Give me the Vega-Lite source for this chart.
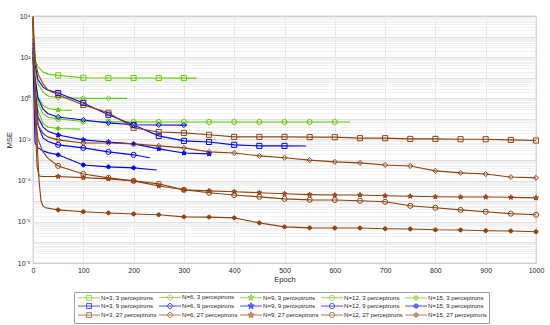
{
  "$schema": "https://vega.github.io/schema/vega-lite/v6.json",
  "autosize": {"type": "none"},
  "padding": {"left": 33, "top": 16, "right": 14, "bottom": 62},
  "width": 503,
  "height": 247,
  "config": {
    "font": "Liberation Sans",
    "view": {"stroke": "#777", "strokeWidth": 0.8},
    "axis": {"labelFontSize": 7, "titleFontSize": 7.5, "titleFontWeight": "normal", "labelColor": "#262626", "titleColor": "#262626", "gridColor": "#e0e0e0", "gridWidth": 0.8, "domain": false, "ticks": false}
  },
  "data": {"values": [
    {"series":"N=3, 3 perceptrons","epoch":0,"mse":200},{"series":"N=3, 3 perceptrons","epoch":5,"mse":60},{"series":"N=3, 3 perceptrons","epoch":10,"mse":35},{"series":"N=3, 3 perceptrons","epoch":20,"mse":19},{"series":"N=3, 3 perceptrons","epoch":30,"mse":15},{"series":"N=3, 3 perceptrons","epoch":50,"mse":13},{"series":"N=3, 3 perceptrons","epoch":100,"mse":10},{"series":"N=3, 3 perceptrons","epoch":150,"mse":9.8},{"series":"N=3, 3 perceptrons","epoch":200,"mse":9.7},{"series":"N=3, 3 perceptrons","epoch":250,"mse":9.7},{"series":"N=3, 3 perceptrons","epoch":300,"mse":9.6},{"series":"N=3, 3 perceptrons","epoch":325,"mse":9.6},
    {"series":"N=6, 3 perceptrons","epoch":0,"mse":150},{"series":"N=6, 3 perceptrons","epoch":5,"mse":20},{"series":"N=6, 3 perceptrons","epoch":10,"mse":5},{"series":"N=6, 3 perceptrons","epoch":20,"mse":2},{"series":"N=6, 3 perceptrons","epoch":30,"mse":1.3},{"series":"N=6, 3 perceptrons","epoch":50,"mse":1.1},{"series":"N=6, 3 perceptrons","epoch":100,"mse":1.0},{"series":"N=6, 3 perceptrons","epoch":150,"mse":1.0},{"series":"N=6, 3 perceptrons","epoch":187,"mse":1.0},
    {"series":"N=9, 3 perceptrons","epoch":0,"mse":100},{"series":"N=9, 3 perceptrons","epoch":5,"mse":6},{"series":"N=9, 3 perceptrons","epoch":10,"mse":1.2},{"series":"N=9, 3 perceptrons","epoch":20,"mse":0.45},{"series":"N=9, 3 perceptrons","epoch":30,"mse":0.32},{"series":"N=9, 3 perceptrons","epoch":50,"mse":0.27},{"series":"N=9, 3 perceptrons","epoch":77,"mse":0.26},
    {"series":"N=12, 3 perceptrons","epoch":0,"mse":120},{"series":"N=12, 3 perceptrons","epoch":5,"mse":4},{"series":"N=12, 3 perceptrons","epoch":10,"mse":0.6},{"series":"N=12, 3 perceptrons","epoch":20,"mse":0.18},{"series":"N=12, 3 perceptrons","epoch":30,"mse":0.12},{"series":"N=12, 3 perceptrons","epoch":50,"mse":0.1},{"series":"N=12, 3 perceptrons","epoch":100,"mse":0.075},{"series":"N=12, 3 perceptrons","epoch":150,"mse":0.073},{"series":"N=12, 3 perceptrons","epoch":200,"mse":0.072},{"series":"N=12, 3 perceptrons","epoch":250,"mse":0.071},{"series":"N=12, 3 perceptrons","epoch":300,"mse":0.071},{"series":"N=12, 3 perceptrons","epoch":350,"mse":0.071},{"series":"N=12, 3 perceptrons","epoch":400,"mse":0.071},{"series":"N=12, 3 perceptrons","epoch":450,"mse":0.071},{"series":"N=12, 3 perceptrons","epoch":500,"mse":0.071},{"series":"N=12, 3 perceptrons","epoch":550,"mse":0.071},{"series":"N=12, 3 perceptrons","epoch":600,"mse":0.071},{"series":"N=12, 3 perceptrons","epoch":630,"mse":0.071},
    {"series":"N=15, 3 perceptrons","epoch":0,"mse":80},{"series":"N=15, 3 perceptrons","epoch":5,"mse":2},{"series":"N=15, 3 perceptrons","epoch":10,"mse":0.25},{"series":"N=15, 3 perceptrons","epoch":20,"mse":0.06},{"series":"N=15, 3 perceptrons","epoch":30,"mse":0.04},{"series":"N=15, 3 perceptrons","epoch":50,"mse":0.034},{"series":"N=15, 3 perceptrons","epoch":94,"mse":0.032},
    {"series":"N=3, 9 perceptrons","epoch":0,"mse":800},{"series":"N=3, 9 perceptrons","epoch":3,"mse":60},{"series":"N=3, 9 perceptrons","epoch":10,"mse":8},{"series":"N=3, 9 perceptrons","epoch":20,"mse":3.5},{"series":"N=3, 9 perceptrons","epoch":30,"mse":2.5},{"series":"N=3, 9 perceptrons","epoch":50,"mse":1.8},{"series":"N=3, 9 perceptrons","epoch":100,"mse":0.6},{"series":"N=3, 9 perceptrons","epoch":150,"mse":0.16},{"series":"N=3, 9 perceptrons","epoch":200,"mse":0.05},{"series":"N=3, 9 perceptrons","epoch":250,"mse":0.015},{"series":"N=3, 9 perceptrons","epoch":300,"mse":0.0086},{"series":"N=3, 9 perceptrons","epoch":350,"mse":0.0076},{"series":"N=3, 9 perceptrons","epoch":400,"mse":0.0055},{"series":"N=3, 9 perceptrons","epoch":450,"mse":0.0049},{"series":"N=3, 9 perceptrons","epoch":500,"mse":0.0049},{"series":"N=3, 9 perceptrons","epoch":543,"mse":0.0048},
    {"series":"N=6, 9 perceptrons","epoch":0,"mse":500},{"series":"N=6, 9 perceptrons","epoch":3,"mse":15},{"series":"N=6, 9 perceptrons","epoch":10,"mse":1.0},{"series":"N=6, 9 perceptrons","epoch":20,"mse":0.3},{"series":"N=6, 9 perceptrons","epoch":30,"mse":0.18},{"series":"N=6, 9 perceptrons","epoch":50,"mse":0.125},{"series":"N=6, 9 perceptrons","epoch":100,"mse":0.089},{"series":"N=6, 9 perceptrons","epoch":150,"mse":0.064},{"series":"N=6, 9 perceptrons","epoch":200,"mse":0.052},{"series":"N=6, 9 perceptrons","epoch":250,"mse":0.051},{"series":"N=6, 9 perceptrons","epoch":300,"mse":0.05},{"series":"N=6, 9 perceptrons","epoch":306,"mse":0.05},
    {"series":"N=9, 9 perceptrons","epoch":0,"mse":300},{"series":"N=9, 9 perceptrons","epoch":3,"mse":5},{"series":"N=9, 9 perceptrons","epoch":10,"mse":0.12},{"series":"N=9, 9 perceptrons","epoch":20,"mse":0.04},{"series":"N=9, 9 perceptrons","epoch":30,"mse":0.025},{"series":"N=9, 9 perceptrons","epoch":50,"mse":0.0167},{"series":"N=9, 9 perceptrons","epoch":100,"mse":0.0096},{"series":"N=9, 9 perceptrons","epoch":150,"mse":0.0076},{"series":"N=9, 9 perceptrons","epoch":200,"mse":0.0061},{"series":"N=9, 9 perceptrons","epoch":250,"mse":0.0035},{"series":"N=9, 9 perceptrons","epoch":300,"mse":0.0022},{"series":"N=9, 9 perceptrons","epoch":350,"mse":0.002},{"series":"N=9, 9 perceptrons","epoch":355,"mse":0.002},
    {"series":"N=12, 9 perceptrons","epoch":0,"mse":200},{"series":"N=12, 9 perceptrons","epoch":3,"mse":2},{"series":"N=12, 9 perceptrons","epoch":10,"mse":0.05},{"series":"N=12, 9 perceptrons","epoch":20,"mse":0.012},{"series":"N=12, 9 perceptrons","epoch":30,"mse":0.008},{"series":"N=12, 9 perceptrons","epoch":50,"mse":0.0055},{"series":"N=12, 9 perceptrons","epoch":100,"mse":0.0039},{"series":"N=12, 9 perceptrons","epoch":150,"mse":0.0025},{"series":"N=12, 9 perceptrons","epoch":200,"mse":0.0018},{"series":"N=12, 9 perceptrons","epoch":232,"mse":0.0013},
    {"series":"N=15, 9 perceptrons","epoch":0,"mse":100},{"series":"N=15, 9 perceptrons","epoch":2,"mse":1},{"series":"N=15, 9 perceptrons","epoch":4,"mse":0.0068},{"series":"N=15, 9 perceptrons","epoch":10,"mse":0.004},{"series":"N=15, 9 perceptrons","epoch":20,"mse":0.0028},{"series":"N=15, 9 perceptrons","epoch":30,"mse":0.0023},{"series":"N=15, 9 perceptrons","epoch":50,"mse":0.0018},{"series":"N=15, 9 perceptrons","epoch":100,"mse":0.00058},{"series":"N=15, 9 perceptrons","epoch":150,"mse":0.00047},{"series":"N=15, 9 perceptrons","epoch":200,"mse":0.00042},{"series":"N=15, 9 perceptrons","epoch":246,"mse":0.00033},
    {"series":"N=3, 27 perceptrons","epoch":0,"mse":9000},{"series":"N=3, 27 perceptrons","epoch":2,"mse":1000},{"series":"N=3, 27 perceptrons","epoch":5,"mse":60},{"series":"N=3, 27 perceptrons","epoch":10,"mse":15},{"series":"N=3, 27 perceptrons","epoch":20,"mse":5},{"series":"N=3, 27 perceptrons","epoch":30,"mse":2.5},{"series":"N=3, 27 perceptrons","epoch":50,"mse":1.5},{"series":"N=3, 27 perceptrons","epoch":100,"mse":0.48},{"series":"N=3, 27 perceptrons","epoch":150,"mse":0.2},{"series":"N=3, 27 perceptrons","epoch":200,"mse":0.037},{"series":"N=3, 27 perceptrons","epoch":250,"mse":0.023},{"series":"N=3, 27 perceptrons","epoch":300,"mse":0.021},{"series":"N=3, 27 perceptrons","epoch":350,"mse":0.017},{"series":"N=3, 27 perceptrons","epoch":400,"mse":0.0134},{"series":"N=3, 27 perceptrons","epoch":450,"mse":0.0134},{"series":"N=3, 27 perceptrons","epoch":500,"mse":0.0134},{"series":"N=3, 27 perceptrons","epoch":550,"mse":0.013},{"series":"N=3, 27 perceptrons","epoch":600,"mse":0.013},{"series":"N=3, 27 perceptrons","epoch":650,"mse":0.0116},{"series":"N=3, 27 perceptrons","epoch":700,"mse":0.0116},{"series":"N=3, 27 perceptrons","epoch":750,"mse":0.0107},{"series":"N=3, 27 perceptrons","epoch":800,"mse":0.0107},{"series":"N=3, 27 perceptrons","epoch":850,"mse":0.0103},{"series":"N=3, 27 perceptrons","epoch":900,"mse":0.0103},{"series":"N=3, 27 perceptrons","epoch":950,"mse":0.0096},{"series":"N=3, 27 perceptrons","epoch":1000,"mse":0.0089},
    {"series":"N=6, 27 perceptrons","epoch":0,"mse":5000},{"series":"N=6, 27 perceptrons","epoch":2,"mse":100},{"series":"N=6, 27 perceptrons","epoch":5,"mse":1},{"series":"N=6, 27 perceptrons","epoch":10,"mse":0.05},{"series":"N=6, 27 perceptrons","epoch":20,"mse":0.02},{"series":"N=6, 27 perceptrons","epoch":30,"mse":0.013},{"series":"N=6, 27 perceptrons","epoch":50,"mse":0.0096},{"series":"N=6, 27 perceptrons","epoch":100,"mse":0.0068},{"series":"N=6, 27 perceptrons","epoch":150,"mse":0.0068},{"series":"N=6, 27 perceptrons","epoch":200,"mse":0.0061},{"series":"N=6, 27 perceptrons","epoch":250,"mse":0.0049},{"series":"N=6, 27 perceptrons","epoch":300,"mse":0.0039},{"series":"N=6, 27 perceptrons","epoch":350,"mse":0.0025},{"series":"N=6, 27 perceptrons","epoch":400,"mse":0.0022},{"series":"N=6, 27 perceptrons","epoch":450,"mse":0.0016},{"series":"N=6, 27 perceptrons","epoch":500,"mse":0.0013},{"series":"N=6, 27 perceptrons","epoch":550,"mse":0.001},{"series":"N=6, 27 perceptrons","epoch":600,"mse":0.00082},{"series":"N=6, 27 perceptrons","epoch":650,"mse":0.00073},{"series":"N=6, 27 perceptrons","epoch":700,"mse":0.00058},{"series":"N=6, 27 perceptrons","epoch":750,"mse":0.00052},{"series":"N=6, 27 perceptrons","epoch":800,"mse":0.0003},{"series":"N=6, 27 perceptrons","epoch":850,"mse":0.00024},{"series":"N=6, 27 perceptrons","epoch":900,"mse":0.00021},{"series":"N=6, 27 perceptrons","epoch":950,"mse":0.00015},{"series":"N=6, 27 perceptrons","epoch":1000,"mse":0.000137},
    {"series":"N=9, 27 perceptrons","epoch":0,"mse":8000},{"series":"N=9, 27 perceptrons","epoch":2,"mse":50},{"series":"N=9, 27 perceptrons","epoch":5,"mse":0.05},{"series":"N=9, 27 perceptrons","epoch":8,"mse":0.0005},{"series":"N=9, 27 perceptrons","epoch":12,"mse":0.00017},{"series":"N=9, 27 perceptrons","epoch":20,"mse":0.00016},{"series":"N=9, 27 perceptrons","epoch":50,"mse":0.00016},{"series":"N=9, 27 perceptrons","epoch":100,"mse":0.00014},{"series":"N=9, 27 perceptrons","epoch":150,"mse":0.000122},{"series":"N=9, 27 perceptrons","epoch":200,"mse":0.000098},{"series":"N=9, 27 perceptrons","epoch":250,"mse":0.000055},{"series":"N=9, 27 perceptrons","epoch":300,"mse":0.000036},{"series":"N=9, 27 perceptrons","epoch":350,"mse":0.000032},{"series":"N=9, 27 perceptrons","epoch":400,"mse":0.000029},{"series":"N=9, 27 perceptrons","epoch":450,"mse":0.000026},{"series":"N=9, 27 perceptrons","epoch":500,"mse":0.000023},{"series":"N=9, 27 perceptrons","epoch":550,"mse":0.000021},{"series":"N=9, 27 perceptrons","epoch":600,"mse":0.00002},{"series":"N=9, 27 perceptrons","epoch":650,"mse":0.00002},{"series":"N=9, 27 perceptrons","epoch":700,"mse":0.0000185},{"series":"N=9, 27 perceptrons","epoch":750,"mse":0.0000175},{"series":"N=9, 27 perceptrons","epoch":800,"mse":0.0000165},{"series":"N=9, 27 perceptrons","epoch":850,"mse":0.000016},{"series":"N=9, 27 perceptrons","epoch":900,"mse":0.000016},{"series":"N=9, 27 perceptrons","epoch":950,"mse":0.0000155},{"series":"N=9, 27 perceptrons","epoch":1000,"mse":0.0000146},
    {"series":"N=12, 27 perceptrons","epoch":0,"mse":6000},{"series":"N=12, 27 perceptrons","epoch":2,"mse":30},{"series":"N=12, 27 perceptrons","epoch":5,"mse":0.1},{"series":"N=12, 27 perceptrons","epoch":10,"mse":0.01},{"series":"N=12, 27 perceptrons","epoch":20,"mse":0.0025},{"series":"N=12, 27 perceptrons","epoch":30,"mse":0.0012},{"series":"N=12, 27 perceptrons","epoch":50,"mse":0.00052},{"series":"N=12, 27 perceptrons","epoch":100,"mse":0.00021},{"series":"N=12, 27 perceptrons","epoch":150,"mse":0.000137},{"series":"N=12, 27 perceptrons","epoch":200,"mse":0.000098},{"series":"N=12, 27 perceptrons","epoch":250,"mse":0.00007},{"series":"N=12, 27 perceptrons","epoch":300,"mse":0.000036},{"series":"N=12, 27 perceptrons","epoch":350,"mse":0.000026},{"series":"N=12, 27 perceptrons","epoch":400,"mse":0.00002},{"series":"N=12, 27 perceptrons","epoch":450,"mse":0.0000164},{"series":"N=12, 27 perceptrons","epoch":500,"mse":0.0000131},{"series":"N=12, 27 perceptrons","epoch":550,"mse":0.0000117},{"series":"N=12, 27 perceptrons","epoch":600,"mse":0.0000115},{"series":"N=12, 27 perceptrons","epoch":650,"mse":0.0000105},{"series":"N=12, 27 perceptrons","epoch":700,"mse":0.0000094},{"series":"N=12, 27 perceptrons","epoch":750,"mse":0.000006},{"series":"N=12, 27 perceptrons","epoch":800,"mse":0.0000048},{"series":"N=12, 27 perceptrons","epoch":850,"mse":0.0000038},{"series":"N=12, 27 perceptrons","epoch":900,"mse":0.0000031},{"series":"N=12, 27 perceptrons","epoch":950,"mse":0.0000025},{"series":"N=12, 27 perceptrons","epoch":1000,"mse":0.0000022},
    {"series":"N=15, 27 perceptrons","epoch":0,"mse":10000},{"series":"N=15, 27 perceptrons","epoch":3,"mse":10},{"series":"N=15, 27 perceptrons","epoch":8,"mse":0.01},{"series":"N=15, 27 perceptrons","epoch":12,"mse":0.0001},{"series":"N=15, 27 perceptrons","epoch":16,"mse":0.00001},{"series":"N=15, 27 perceptrons","epoch":20,"mse":0.000006},{"series":"N=15, 27 perceptrons","epoch":25,"mse":0.0000048},{"series":"N=15, 27 perceptrons","epoch":50,"mse":0.0000038},{"series":"N=15, 27 perceptrons","epoch":100,"mse":0.0000031},{"series":"N=15, 27 perceptrons","epoch":150,"mse":0.0000027},{"series":"N=15, 27 perceptrons","epoch":200,"mse":0.0000024},{"series":"N=15, 27 perceptrons","epoch":250,"mse":0.0000022},{"series":"N=15, 27 perceptrons","epoch":300,"mse":0.00000175},{"series":"N=15, 27 perceptrons","epoch":350,"mse":0.0000017},{"series":"N=15, 27 perceptrons","epoch":400,"mse":0.00000156},{"series":"N=15, 27 perceptrons","epoch":450,"mse":0.00000089},{"series":"N=15, 27 perceptrons","epoch":500,"mse":0.00000057},{"series":"N=15, 27 perceptrons","epoch":550,"mse":0.00000051},{"series":"N=15, 27 perceptrons","epoch":600,"mse":0.0000005},{"series":"N=15, 27 perceptrons","epoch":650,"mse":0.0000005},{"series":"N=15, 27 perceptrons","epoch":700,"mse":0.00000046},{"series":"N=15, 27 perceptrons","epoch":750,"mse":0.00000045},{"series":"N=15, 27 perceptrons","epoch":800,"mse":0.00000041},{"series":"N=15, 27 perceptrons","epoch":850,"mse":0.0000004},{"series":"N=15, 27 perceptrons","epoch":900,"mse":0.00000037},{"series":"N=15, 27 perceptrons","epoch":950,"mse":0.00000036},{"series":"N=15, 27 perceptrons","epoch":1000,"mse":0.00000033}
  ]},
  "encoding": {
    "x": {"field": "epoch", "type": "quantitative", "scale": {"domain": [0, 1000], "nice": false},
      "axis": {"title": "Epoch", "values": [0,100,200,300,400,500,600,700,800,900,1000], "format": "d", "labelFlush": false, "labelPadding": 3, "titlePadding": 2}},
    "y": {"field": "mse", "type": "quantitative", "scale": {"type": "log", "domain": [1e-8, 10000], "nice": false},
      "axis": {"title": "MSE", "labelOverlap": false,
        "values": [1e-8,2e-8,3e-8,4e-8,5e-8,6e-8,7e-8,8e-8,9e-8,1e-7,2e-7,3e-7,4e-7,5e-7,6e-7,7e-7,8e-7,9e-7,1e-6,2e-6,3e-6,4e-6,5e-6,6e-6,7e-6,8e-6,9e-6,1e-5,2e-5,3e-5,4e-5,5e-5,6e-5,7e-5,8e-5,9e-5,1e-4,2e-4,3e-4,4e-4,5e-4,6e-4,7e-4,8e-4,9e-4,1e-3,2e-3,3e-3,4e-3,5e-3,6e-3,7e-3,8e-3,9e-3,1e-2,2e-2,3e-2,4e-2,5e-2,6e-2,7e-2,8e-2,9e-2,0.1,0.2,0.3,0.4,0.5,0.6,0.7,0.8,0.9,1,2,3,4,5,6,7,8,9,10,20,30,40,50,60,70,80,90,100,200,300,400,500,600,700,800,900,1000,2000,3000,4000,5000,6000,7000,8000,9000,10000],
        "labelExpr": "abs(log(datum.value)/LN10 - round(log(datum.value)/LN10)) < 0.01 ? ['10⁻⁸','','10⁻⁶','','10⁻⁴','','10⁻²','','10⁰','','10²','','10⁴'][round(log(datum.value)/LN10)+8] : ''",
        "gridColor": {"condition": {"test": "abs(log(datum.value)/LN10 - round(log(datum.value)/LN10)) < 0.01", "value": "#d8d8d8"}, "value": "#efefef"},
        "labelPadding": 3, "titlePadding": 4}}
  },
  "layer": [
    {
      "mark": {"type": "line", "strokeWidth": 1.1},
      "encoding": {
        "stroke": {"field": "series", "type": "nominal", "legend": null,
          "scale": {"domain": ["N=3, 3 perceptrons","N=6, 3 perceptrons","N=9, 3 perceptrons","N=12, 3 perceptrons","N=15, 3 perceptrons","N=3, 9 perceptrons","N=6, 9 perceptrons","N=9, 9 perceptrons","N=12, 9 perceptrons","N=15, 9 perceptrons","N=3, 27 perceptrons","N=6, 27 perceptrons","N=9, 27 perceptrons","N=12, 27 perceptrons","N=15, 27 perceptrons"],
            "range": ["#66cc00","#66cc00","#66cc00","#66cc00","#66cc00","#0000ff","#0000ff","#0000ff","#0000ff","#0000ff","#8b4513","#8b4513","#8b4513","#8b4513","#8b4513"]}}
      }
    },
    {
      "transform": [{"filter": "datum.epoch > 0 && datum.epoch % 50 == 0"}],
      "mark": {"type": "point", "filled": true, "strokeWidth": 1, "size": 26, "opacity": 1},
      "encoding": {
        "stroke": {"field": "series", "type": "nominal", "legend": null,
          "scale": {"domain": ["N=3, 3 perceptrons","N=6, 3 perceptrons","N=9, 3 perceptrons","N=12, 3 perceptrons","N=15, 3 perceptrons","N=3, 9 perceptrons","N=6, 9 perceptrons","N=9, 9 perceptrons","N=12, 9 perceptrons","N=15, 9 perceptrons","N=3, 27 perceptrons","N=6, 27 perceptrons","N=9, 27 perceptrons","N=12, 27 perceptrons","N=15, 27 perceptrons"],
            "range": ["#66cc00","#66cc00","#66cc00","#66cc00","#66cc00","#0000ff","#0000ff","#0000ff","#0000ff","#0000ff","#8b4513","#8b4513","#8b4513","#8b4513","#8b4513"]}},
        "fill": {"field": "series", "type": "nominal", "legend": null,
          "scale": {"domain": ["N=3, 3 perceptrons","N=6, 3 perceptrons","N=9, 3 perceptrons","N=12, 3 perceptrons","N=15, 3 perceptrons","N=3, 9 perceptrons","N=6, 9 perceptrons","N=9, 9 perceptrons","N=12, 9 perceptrons","N=15, 9 perceptrons","N=3, 27 perceptrons","N=6, 27 perceptrons","N=9, 27 perceptrons","N=12, 27 perceptrons","N=15, 27 perceptrons"],
            "range": ["transparent","transparent","#66cc00","transparent","#66cc00","transparent","transparent","#0000ff","transparent","#0000ff","transparent","transparent","#d2381c","transparent","#8b4513"]}},
        "shape": {"field": "series", "type": "nominal", "legend": null,
          "scale": {"domain": ["N=3, 3 perceptrons","N=6, 3 perceptrons","N=9, 3 perceptrons","N=12, 3 perceptrons","N=15, 3 perceptrons","N=3, 9 perceptrons","N=6, 9 perceptrons","N=9, 9 perceptrons","N=12, 9 perceptrons","N=15, 9 perceptrons","N=3, 27 perceptrons","N=6, 27 perceptrons","N=9, 27 perceptrons","N=12, 27 perceptrons","N=15, 27 perceptrons"],
            "range": ["square","diamond","M0,-1L0.265,-0.364L0.951,-0.309L0.428,0.139L0.588,0.809L0,0.45L-0.588,0.809L-0.428,0.139L-0.951,-0.309L-0.265,-0.364Z","circle","M-0.75,0A0.75,0.75,0,1,1,0.75,0A0.75,0.75,0,1,1,-0.75,0Z","square","diamond","M0,-1L0.265,-0.364L0.951,-0.309L0.428,0.139L0.588,0.809L0,0.45L-0.588,0.809L-0.428,0.139L-0.951,-0.309L-0.265,-0.364Z","circle","M-0.75,0A0.75,0.75,0,1,1,0.75,0A0.75,0.75,0,1,1,-0.75,0Z","square","diamond","M0,-1L0.265,-0.364L0.951,-0.309L0.428,0.139L0.588,0.809L0,0.45L-0.588,0.809L-0.428,0.139L-0.951,-0.309L-0.265,-0.364Z","circle","M-0.75,0A0.75,0.75,0,1,1,0.75,0A0.75,0.75,0,1,1,-0.75,0Z"]}}
      }
    },
    {
      "transform": [{"filter": "datum.epoch < 0"}],
      "mark": {"type": "point", "filled": true, "strokeWidth": 1},
      "encoding": {
        "stroke": {"field": "series", "type": "nominal",
          "legend": {"orient": "none", "legendX": 41, "legendY": 276, "columns": 5, "title": null, "labelFontSize": 6.1, "labelColor": "#262626", "symbolSize": 16, "symbolStrokeWidth": 1, "symbolOffset": 0, "labelOffset": 19, "rowPadding": -5.5, "columnPadding": 0, "padding": 2, "strokeColor": "#a0a0a0", "fillColor": "white", "labelLimit": 200},
          "scale": {"domain": ["N=3, 3 perceptrons","N=3, 9 perceptrons","N=3, 27 perceptrons","N=6, 3 perceptrons","N=6, 9 perceptrons","N=6, 27 perceptrons","N=9, 3 perceptrons","N=9, 9 perceptrons","N=9, 27 perceptrons","N=12, 3 perceptrons","N=12, 9 perceptrons","N=12, 27 perceptrons","N=15, 3 perceptrons","N=15, 9 perceptrons","N=15, 27 perceptrons"],
            "range": ["#66cc00","#0000ff","#8b4513","#66cc00","#0000ff","#8b4513","#66cc00","#0000ff","#8b4513","#66cc00","#0000ff","#8b4513","#66cc00","#0000ff","#8b4513"]}},
        "fill": {"field": "series", "type": "nominal",
          "legend": {"orient": "none", "legendX": 41, "legendY": 276, "columns": 5, "title": null, "labelFontSize": 6.1, "labelColor": "#262626", "symbolSize": 16, "symbolStrokeWidth": 1, "symbolOffset": 0, "labelOffset": 19, "rowPadding": -5.5, "columnPadding": 0, "padding": 2, "strokeColor": "#a0a0a0", "fillColor": "white", "labelLimit": 200},
          "scale": {"domain": ["N=3, 3 perceptrons","N=3, 9 perceptrons","N=3, 27 perceptrons","N=6, 3 perceptrons","N=6, 9 perceptrons","N=6, 27 perceptrons","N=9, 3 perceptrons","N=9, 9 perceptrons","N=9, 27 perceptrons","N=12, 3 perceptrons","N=12, 9 perceptrons","N=12, 27 perceptrons","N=15, 3 perceptrons","N=15, 9 perceptrons","N=15, 27 perceptrons"],
            "range": ["transparent","transparent","transparent","transparent","transparent","transparent","#66cc00","#0000ff","#d2381c","transparent","transparent","transparent","#66cc00","#0000ff","#8b4513"]}},
        "shape": {"field": "series", "type": "nominal",
          "legend": {"orient": "none", "legendX": 41, "legendY": 276, "columns": 5, "title": null, "labelFontSize": 6.1, "labelColor": "#262626", "symbolSize": 16, "symbolStrokeWidth": 1, "symbolOffset": 0, "labelOffset": 19, "rowPadding": -5.5, "columnPadding": 0, "padding": 2, "strokeColor": "#a0a0a0", "fillColor": "white", "labelLimit": 200},
          "scale": {"domain": ["N=3, 3 perceptrons","N=3, 9 perceptrons","N=3, 27 perceptrons","N=6, 3 perceptrons","N=6, 9 perceptrons","N=6, 27 perceptrons","N=9, 3 perceptrons","N=9, 9 perceptrons","N=9, 27 perceptrons","N=12, 3 perceptrons","N=12, 9 perceptrons","N=12, 27 perceptrons","N=15, 3 perceptrons","N=15, 9 perceptrons","N=15, 27 perceptrons"],
            "range": ["M-0.5,0H10.5M3.78,-1.22H6.22V1.22H3.78Z","M-0.5,0H10.5M3.78,-1.22H6.22V1.22H3.78Z","M-0.5,0H10.5M3.78,-1.22H6.22V1.22H3.78Z","M-0.5,0H10.5M5,-1.57L6.57,0L5,1.57L3.43,0Z","M-0.5,0H10.5M5,-1.57L6.57,0L5,1.57L3.43,0Z","M-0.5,0H10.5M5,-1.57L6.57,0L5,1.57L3.43,0Z","M-0.5,0H10.5M5,-1.66L5.44,-0.61L6.58,-0.51L5.72,0.23L5.98,1.35L5,0.75L4.02,1.35L4.28,0.23L3.42,-0.51L4.56,-0.61Z","M-0.5,0H10.5M5,-1.66L5.44,-0.61L6.58,-0.51L5.72,0.23L5.98,1.35L5,0.75L4.02,1.35L4.28,0.23L3.42,-0.51L4.56,-0.61Z","M-0.5,0H10.5M5,-1.66L5.44,-0.61L6.58,-0.51L5.72,0.23L5.98,1.35L5,0.75L4.02,1.35L4.28,0.23L3.42,-0.51L4.56,-0.61Z","M-0.5,0H10.5M3.7,0A1.3,1.3,0,1,1,6.3,0A1.3,1.3,0,1,1,3.7,0Z","M-0.5,0H10.5M3.7,0A1.3,1.3,0,1,1,6.3,0A1.3,1.3,0,1,1,3.7,0Z","M-0.5,0H10.5M3.7,0A1.3,1.3,0,1,1,6.3,0A1.3,1.3,0,1,1,3.7,0Z","M-0.5,0H10.5M3.95,0A1.05,1.05,0,1,1,6.05,0A1.05,1.05,0,1,1,3.95,0Z","M-0.5,0H10.5M3.95,0A1.05,1.05,0,1,1,6.05,0A1.05,1.05,0,1,1,3.95,0Z","M-0.5,0H10.5M3.95,0A1.05,1.05,0,1,1,6.05,0A1.05,1.05,0,1,1,3.95,0Z"]}}
      }
    }
  ],
  "resolve": {"scale": {"stroke": "independent", "fill": "independent", "shape": "independent"}}
}
